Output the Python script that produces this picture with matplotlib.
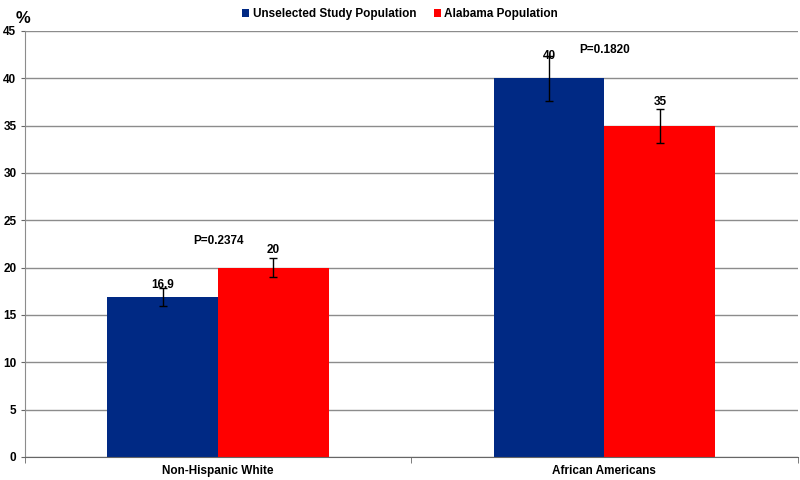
import numpy as np
import matplotlib.pyplot as plt

categories = ["Non-Hispanic White", "African Americans"]
series_names = ["Unselected Study Population", "Alabama Population"]
study_values = [16.9, 40]
alabama_values = [20, 35]
study_err = [1.0, 2.4]
alabama_err = [1.0, 1.8]
p_labels = ["P=0.2374", "P=0.1820"]
p_heights = [22.8, 43.0]
value_labels_study = ["16.9", "40"]
value_labels_alabama = ["20", "35"]

plt.rcParams["font.family"] = ["Liberation Sans Narrow", "Liberation Sans", "DejaVu Sans"]

fig = plt.figure(figsize=(8, 4.8), dpi=100)
ax = fig.add_axes([0.031, 0.048, 0.966, 0.8875])

x = np.arange(len(categories))
w = 0.287
blue = "#002984"
red = "#FF0000"

ax.bar(x - w / 2, study_values, w, color=blue, label=series_names[0], zorder=2)
ax.bar(x + w / 2, alabama_values, w, color=red, label=series_names[1], zorder=2)
ax.errorbar(x - w / 2, study_values, yerr=study_err, fmt="none", ecolor="black",
            elinewidth=1, capsize=3, capthick=1, zorder=3)
ax.errorbar(x + w / 2, alabama_values, yerr=alabama_err, fmt="none", ecolor="black",
            elinewidth=1, capsize=3, capthick=1, zorder=3)

# label offsets above the bar tops, as placed in the original
study_off = [1.3, 2.4]
alabama_off = [1.9, 2.5]
for i in range(len(categories)):
    ax.text(x[i] - w / 2, study_values[i] + study_off[i], value_labels_study[i], ha="center",
            va="center", fontsize=8.5, fontweight="bold", zorder=4)
    ax.text(x[i] + w / 2, alabama_values[i] + alabama_off[i], value_labels_alabama[i],
            ha="center", va="center", fontsize=8.5, fontweight="bold", zorder=4)
    ax.text(x[i], p_heights[i], p_labels[i], ha="center", va="center",
            fontsize=8.5, fontweight="bold", zorder=4)

ax.set_xlim(-0.5, 1.5)
ax.set_ylim(0, 45)
ax.set_yticks(np.arange(0, 46, 5))
ax.yaxis.grid(True, color="#8c8c8c", linewidth=1)
ax.set_axisbelow(True)
ax.set_xticks(x)
ax.set_xticklabels(categories, fontsize=8.5, fontweight="bold")
ax.set_xticks([-0.5, 0.5, 1.5], minor=True)
ax.tick_params(axis="x", which="major", length=0, pad=6)
ax.tick_params(axis="x", which="minor", length=4, color="#666666")
ax.tick_params(axis="y", length=3, color="#666666", labelsize=8.5, pad=3)
for lbl in ax.get_yticklabels():
    lbl.set_fontweight("bold")

for side in ["top", "right"]:
    ax.spines[side].set_visible(False)
ax.spines["left"].set_color("#8c8c8c")
ax.spines["bottom"].set_color("#666666")

fig.text(0.019, 0.962, "%", fontsize=12, fontweight="bold", ha="left", va="center")

fig.legend(loc="upper center", bbox_to_anchor=(0.5, 1.0), ncol=2, frameon=False,
           prop={"weight": "bold", "size": 8.5}, handlelength=0.6,
           handleheight=0.6, handletextpad=0.3, columnspacing=1.5, borderaxespad=0.3)

fig.savefig("out.png", dpi=100)
